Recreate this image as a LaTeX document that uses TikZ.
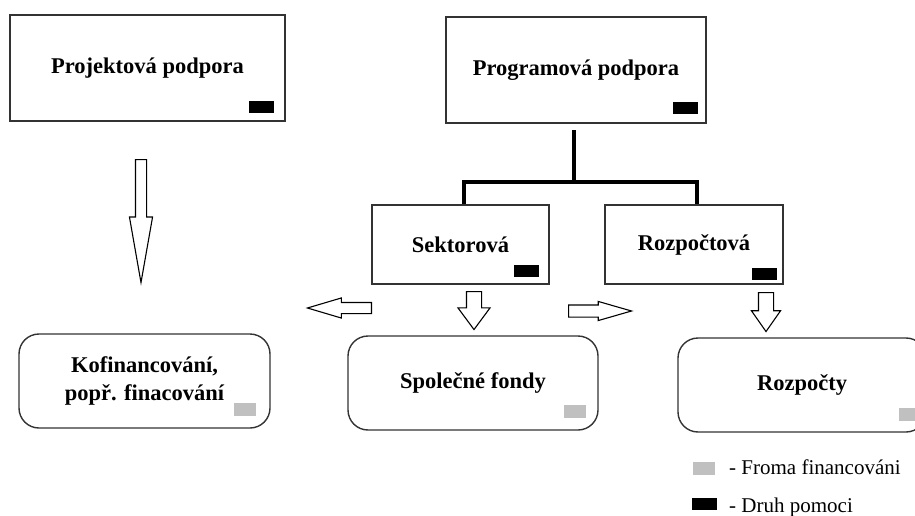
\documentclass[tikz,border=0pt]{standalone}
\usepackage{fontspec}
\setmainfont{Liberation Serif}
\usetikzlibrary{shapes, arrows, positioning}
\definecolor{markgrey}{RGB}{192,192,192}

\begin{document}
\begin{tikzpicture}[
        x=1pt, y=-1pt,
        box/.style={draw=black!80, line width=1.4pt, rectangle, align=center, font=\fontsize{22.5}{28}\selectfont\bfseries},
        roundbox/.style={box, rounded corners=20pt},
        blackmark/.style={fill=black, minimum width=25pt, minimum height=12pt, inner sep=0pt},
        greymark/.style={fill=markgrey, minimum width=22pt, minimum height=13pt, inner sep=0pt},
        blockarrow/.style={draw=black, line width=1.1pt, single arrow, anchor=tail},
        tree/.style={line width=4pt},
        legend/.style={font=\fontsize{21}{25}\selectfont, inner sep=0pt}
    ]
        \useasboundingbox (0,0) rectangle (915,516);
        \clip (0,0) rectangle (915,516);

        % Zones
        \node[box, minimum width=275pt, minimum height=106pt] (projekt) at (147.5,68) {Projektová podpora};
        \node[box, minimum width=260pt, minimum height=106pt] (program) at (576,70) {Programová podpora};
        \node[box, minimum width=177pt, minimum height=79pt] (sektor) at (460.5,244.5) {Sektorová};
        \node[box, minimum width=178pt, minimum height=79pt] (rozpoc) at (694,244.5) {Rozpočtová};

        \node[roundbox, minimum width=251pt, minimum height=94pt] (kofin) at (144.5,381) {Kofinancování,\\popř. finacování};
        \node[roundbox, minimum width=250pt, minimum height=94pt] (fondy) at (473,383) {Společné fondy};
        \node[roundbox, minimum width=248pt, minimum height=94pt] (rozpocty) at (802,385) {Rozpočty};

        % Marks
        \node[blackmark, anchor=south east] (projmark) at ([xshift=-12pt, yshift=8pt]projekt.south east) {};
        \node[blackmark, anchor=south east] (progmark) at ([xshift=-9pt, yshift=9pt]program.south east) {};
        \node[blackmark, anchor=south east] (sektmark) at ([xshift=-11pt, yshift=8pt]sektor.south east) {};
        \node[blackmark, anchor=south east] (rozpmark) at ([xshift=-7pt, yshift=5pt]rozpoc.south east) {};
        \node[greymark, anchor=south east] (kofmark) at ([xshift=-15pt, yshift=13pt]kofin.south east) {};
        \node[greymark, anchor=south east] (fondmark) at ([xshift=-13pt, yshift=13pt]fondy.south east) {};
        \node[greymark, anchor=south east] (rozpocmark) at ([xshift=-6pt, yshift=12pt]rozpocty.south east) {};

        % Tree
        \coordinate (split) at (574,182);
        \draw[tree] (split) -- ++(0,-52);
        \draw[tree] ([xshift=3pt]sektor.north) |- (split) -| ([xshift=3pt]rozpoc.north);

        % Block arrows
        \node[blockarrow, inner sep=5pt, single arrow head extend=6pt, minimum height=123pt,
              single arrow tip angle=20, shape border rotate=270] (projarrow) at (141,159) {};
        \node[blockarrow, inner sep=5pt, single arrow head extend=4.5pt, minimum height=64pt,
              single arrow tip angle=33, shape border rotate=180] (leftarrow) at (372,308) {};
        \node[blockarrow, inner sep=7pt, single arrow head extend=8.5pt, minimum height=38pt,
              single arrow tip angle=73, shape border rotate=270] (sektarrow) at (474,291) {};
        \node[blockarrow, inner sep=5.5pt, single arrow head extend=3.5pt, minimum height=63pt,
              single arrow tip angle=32] (rightarrow) at (568,311) {};
        \node[blockarrow, inner sep=7pt, single arrow head extend=7pt, minimum height=39pt,
              single arrow tip angle=70, shape border rotate=270] (rozparrow) at (766,292) {};

        % Legend
        \node[greymark] (legfin) at (704,468) {};
        \node[legend, anchor=base west] (legfintext) at (729,474) {- Froma financováni};
        \node[blackmark] (legdruh) at (704.5,504) {};
        \node[legend, anchor=base west] (legdruhtext) at (729,512) {- Druh pomoci};
    \end{tikzpicture}
\end{document}
